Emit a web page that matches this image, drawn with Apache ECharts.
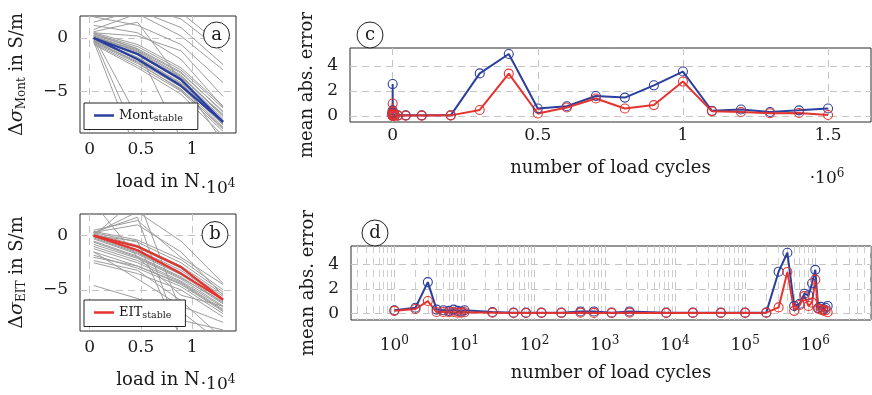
<!DOCTYPE html>
<html><head><meta charset="utf-8">
<script src="https://cdn.jsdelivr.net/npm/echarts@6/dist/echarts.min.js"></script>
<style>html,body{margin:0;padding:0;background:#fff}#c{width:872px;height:395px}</style>
</head><body><div id="c"></div>
<script>
// ---------- data ----------
const loadX = [400, 4670, 8900, 13000];
const loadTickVals = [0, 5000, 10000];
const loadTickLabels = ['0', '0.5', '1'];
const sigmaTickVals = [-5, 0];
const sigmaTickLabels = ['\u22125', '0'];

const montStableA = [0, -1.5, -3.9, -7.9];
const montStableB = [0, -2.0, -4.5, -7.9];
const eitStableA = [0, -1.0, -2.9, -5.9];
const eitStableB = [0, -1.35, -3.5, -5.9];

const montGray = [
  [0.3, -1.0, -3.2, -7.0], [0.2, -1.2, -3.5, -7.3], [0.1, -1.4, -3.8, -7.6],
  [0.0, -1.6, -4.0, -7.8], [-0.1, -1.8, -4.2, -8.0], [-0.2, -2.0, -4.4, -8.2],
  [-0.3, -2.2, -4.6, -8.4], [-0.4, -2.4, -4.8, -8.6], [0.4, -0.8, -3.0, -6.6],
  [0.5, -0.6, -2.8, -6.4], [0.2, -1.3, -3.6, -7.4], [-0.2, -1.9, -4.3, -8.1],
  [-0.5, -2.6, -5.0, -8.8], [0.0, -1.5, -3.7, -7.2], [0.1, -1.1, -3.3, -6.9],
  [-0.3, -2.3, -4.9, -8.5], [-0.6, -2.8, -5.3, -9.2],
  [1.5, 2.6, 1.0, -2.5], [2.4, 3.0, 1.8, -1.3], [0.8, 2.3, 0.2, -3.0],
  [2.0, 1.2, -0.6, -4.2], [2.8, 3.2, 2.4, -0.8], [0.5, 0.2, -1.2, -5.5],
  [1.2, 0.5, -2.0, -6.5], [0.0, -9.5, -12, -14], [0.2, -7.5, -11, -13],
  [-0.3, -11, -13, -15], [0.4, -1.0, -9.5, -11], [0.6, 1.5, -4.0, -9.8]
];
const eitGray = [
  [0.3, -0.6, -2.5, -5.2], [0.2, -0.9, -2.8, -5.4], [0.1, -1.1, -3.0, -5.6],
  [0.0, -1.3, -3.2, -5.8], [-0.1, -1.5, -3.4, -6.0], [-0.3, -1.7, -3.6, -6.2],
  [-0.5, -1.9, -3.8, -6.3], [-0.8, -2.1, -4.0, -6.5], [-1.0, -2.3, -4.2, -6.6],
  [-1.2, -2.5, -4.3, -6.8], [-1.5, -2.8, -4.5, -7.0], [-1.8, -3.0, -4.7, -7.2],
  [0.4, -0.4, -2.2, -5.0], [-0.2, -1.6, -3.5, -5.9], [-0.6, -2.0, -3.9, -6.1],
  [-2.5, -3.5, -5.0, -7.5], [-2.0, -2.8, -4.4, -6.9],
  [0.5, 1.4, -2.0, -4.5], [0.3, 1.0, -1.5, -5.5], [0.3, 1.7, -9.5, -11],
  [0.0, 3.5, -7.0, -10], [-4.6, -5.8, -7.8, -8.7], [-1.5, -4.0, -6.5, -8.0],
  [0.0, -0.5, -9.5, -10.5], [0.2, 2.2, -0.5, -4.4], [3.0, -2.0, -5.5, -6.5],
  [-2.3, -3.2, -6.0, -9.5]
];

const cycles = [1, 2, 3, 4, 5, 6, 7, 8, 9, 10, 25, 50, 75, 125, 240, 450, 700, 1250, 2250,
  7500, 18000, 45000, 100000, 200000, 300000, 400000, 500000, 600000, 700000, 800000,
  900000, 1000000, 1100000, 1200000, 1300000, 1400000, 1500000];
const montError = [0.25, 0.45, 2.55, 0.3, 0.25, 0.2, 0.3, 0.2, 0.15, 0.25, 0.1, 0.05, 0.05, 0.05,
  0.05, 0.15, 0.15, 0.05, 0.15, 0.05, 0.05, 0.05, 0.05, 0.05, 3.4, 4.95, 0.6, 0.78, 1.6, 1.47,
  2.45, 3.55, 0.42, 0.52, 0.32, 0.45, 0.6];
const eitError = [0.2, 0.35, 1.0, 0.1, 0.1, 0.08, 0.1, 0.05, 0.05, 0.08, 0.05, 0.02, 0.02, 0.03,
  0.03, 0.05, 0.03, 0.03, 0.05, 0.03, 0.03, 0.03, 0.03, 0.05, 0.48, 3.38, 0.2, 0.68, 1.4, 0.6,
  0.87, 2.75, 0.37, 0.32, 0.22, 0.24, 0.08];
const cycleTickVals = [0, 500000, 1000000, 1500000];
const cycleTickLabels = ['0', '0.5', '1', '1.5'];
const errTickVals = [0, 2, 4];
const errTickLabels = ['0', '2', '4'];
const logTickExps = [0, 1, 2, 3, 4, 5, 6];

// ---------- style ----------
const FONT = 'DejaVu Serif';
const TXT = '#1a1a1a';
const BLUE = '#2b3f9e';
const RED = '#e3342f';
const GRAY = '#9c9c9c';
const GRID_LINE = {show: true, showMinLine: false, showMaxLine: false, lineStyle: {color: '#c4c4c4', width: 1, type: [7, 5]}};

function pick(vals, labels) {
  return v => { const i = vals.findIndex(t => Math.abs(t - v) < 1e-6 * Math.max(1, Math.abs(t))); return i >= 0 ? labels[i] : ''; };
}
function axisBase(gridIndex, min, max, split, fmt, margin) {
  return {
    type: 'value', gridIndex, min, max, splitNumber: split,
    axisLine: {show: false}, axisTick: {show: false},
    axisLabel: {formatter: fmt, margin, fontFamily: FONT, fontSize: 17, color: TXT},
    splitLine: GRID_LINE
  };
}
const nameStyle = {fontFamily: FONT, fontSize: 18, color: TXT};
const richName = {
  n: {fontFamily: FONT, fontSize: 18, color: TXT},
  d: {fontFamily: FONT, fontSize: 19, color: TXT},
  g: {fontFamily: FONT, fontSize: 19, color: TXT, fontStyle: 'italic'},
  s: {fontFamily: FONT, fontSize: 12, color: TXT, padding: [9, 0, 0, 0]}
};

const xAxes = [
  Object.assign(axisBase(0, -930, 14260, 3, pick(loadTickVals, loadTickLabels), 8),
    {name: 'load in N', nameLocation: 'middle', nameGap: 40, nameTextStyle: nameStyle}),
  Object.assign(axisBase(1, -930, 14260, 3, pick(loadTickVals, loadTickLabels), 8),
    {name: 'load in N', nameLocation: 'middle', nameGap: 40, nameTextStyle: nameStyle}),
  Object.assign(axisBase(2, -147000, 1648000, 4, pick(cycleTickVals, cycleTickLabels), 5),
    {name: 'number of load cycles', nameLocation: 'middle', nameGap: 37, nameTextStyle: nameStyle}),
  {
    type: 'log', logBase: 10, gridIndex: 3, min: Math.pow(10, -0.618), max: Math.pow(10, 6.794),
    axisLine: {show: false}, axisTick: {show: false},
    axisLabel: {
      margin: 15, fontFamily: FONT, fontSize: 17, color: TXT,
      formatter: v => {
        const e = Math.log10(v); const r = Math.round(e);
        return (Math.abs(e - r) < 1e-6 && logTickExps.indexOf(r) >= 0) ? '{b|10}{s|' + r + '}' : '';
      },
      rich: {b: {fontFamily: FONT, fontSize: 17, color: TXT}, s: {fontFamily: FONT, fontSize: 12, color: TXT, padding: [0, 0, 10, 0]}}
    },
    splitLine: GRID_LINE,
    minorTick: {show: false, splitNumber: 9},
    minorSplitLine: {show: true, lineStyle: {color: '#cdcdcd', width: 1, type: [7, 5]}},
    name: 'number of load cycles', nameLocation: 'middle', nameGap: 44, nameTextStyle: nameStyle
  }
];
const yAxes = [
  Object.assign(axisBase(0, -8.95, 2.08, 2, pick(sigmaTickVals, sigmaTickLabels), 12),
    {name: '{d|\u0394}{g|\u03c3}{s|Mont}{n| in S/m}', nameLocation: 'middle', nameGap: 52, nameTextStyle: {rich: richName}}),
  Object.assign(axisBase(1, -8.8, 2.0, 2, pick(sigmaTickVals, sigmaTickLabels), 12),
    {name: '{d|\u0394}{g|\u03c3}{s|EIT}{n| in S/m}', nameLocation: 'middle', nameGap: 52, nameTextStyle: {rich: richName}}),
  Object.assign(axisBase(2, -0.48, 5.43, 3, pick(errTickVals, errTickLabels), 12),
    {name: 'mean abs. error', nameLocation: 'middle', nameGap: 30, nameTextStyle: nameStyle}),
  Object.assign(axisBase(3, -0.55, 5.5, 3, pick(errTickVals, errTickLabels), 12),
    {name: 'mean abs. error', nameLocation: 'middle', nameGap: 30, nameTextStyle: nameStyle})
];

const series = [];
function pairs(xs, ys) { return xs.map((x, i) => [x, ys[i]]); }
montGray.forEach((g, i) => series.push({type: 'line', name: 'mg' + i, xAxisIndex: 0, yAxisIndex: 0, data: pairs(loadX, g),
  showSymbol: false, lineStyle: {color: GRAY, width: 1}, itemStyle: {color: GRAY}, silent: true}));
[montStableA, montStableB].forEach(s => series.push({type: 'line', name: 'Mont_stable', xAxisIndex: 0, yAxisIndex: 0,
  data: pairs(loadX, s), showSymbol: false, lineStyle: {color: BLUE, width: 2.2}, itemStyle: {color: BLUE}, z: 5}));
eitGray.forEach((g, i) => series.push({type: 'line', name: 'eg' + i, xAxisIndex: 1, yAxisIndex: 1, data: pairs(loadX, g),
  showSymbol: false, lineStyle: {color: GRAY, width: 1}, itemStyle: {color: GRAY}, silent: true}));
[eitStableA, eitStableB].forEach(s => series.push({type: 'line', name: 'EIT_stable', xAxisIndex: 1, yAxisIndex: 1,
  data: pairs(loadX, s), showSymbol: false, lineStyle: {color: RED, width: 2.2}, itemStyle: {color: RED}, z: 5}));
function errSeries(ax, vals, color, name) {
  return {type: 'line', name, xAxisIndex: ax, yAxisIndex: ax, data: pairs(cycles, vals),
    symbol: 'circle', symbolSize: 9, showAllSymbol: true,
    lineStyle: {color, width: 2}, itemStyle: {color: 'rgba(0,0,0,0)', borderColor: color, borderWidth: 1.1}, z: 5};
}
series.push(errSeries(2, montError, BLUE, 'mont_err'), errSeries(2, eitError, RED, 'eit_err'));
series.push(errSeries(3, montError, BLUE, 'mont_err_log'), errSeries(3, eitError, RED, 'eit_err_log'));

const legendRich = {
  m: {fontFamily: FONT, fontSize: 13, color: TXT},
  s: {fontFamily: FONT, fontSize: 9.5, color: TXT, padding: [6, 0, 0, 0]}
};
function legend(name, left, top, padRight) {
  return {
    data: [name], left, top, orient: 'vertical', icon: 'rect', itemWidth: 20, itemHeight: 2.5, itemGap: 0,
    padding: [6, padRight, 6, 10], borderColor: '#222', borderWidth: 1, backgroundColor: '#fff',
    selectedMode: false,
    formatter: n => { const p = n.split('_'); return '{m|' + p[0] + '}{s|' + p[1] + '}'; },
    textStyle: {rich: legendRich, padding: [0, 0, 0, 0]}
  };
}

function panelLabel(cx, cy, letter) {
  return [
    {type: 'circle', shape: {cx, cy, r: 13}, style: {fill: '#fff', stroke: '#222', lineWidth: 1}, z: 100},
    {type: 'text', x: cx, y: cy, z: 101, style: {text: letter, fill: TXT, font: '18px "DejaVu Serif"', textAlign: 'center', textVerticalAlign: 'middle'}}
  ];
}
function expLabel(x, y, e) {
  return {type: 'text', x, y, z: 101, style: {
    text: '{a|\u00b710}{s|' + e + '}', textAlign: 'center', textVerticalAlign: 'middle',
    rich: {a: {fontFamily: FONT, fontSize: 17, fill: TXT, color: TXT}, s: {fontFamily: FONT, fontSize: 12, fill: TXT, color: TXT, padding: [0, 0, 10, 0]}}
  }};
}

const option = {
  animation: false,
  backgroundColor: '#fff',
  textStyle: {fontFamily: FONT},
  grid: [
    {left: 80, top: 16, width: 156, height: 117},
    {left: 80, top: 214, width: 156, height: 117},
    {left: 350, top: 48, width: 521, height: 74},
    {left: 351, top: 246, width: 520, height: 74}
  ].map(g => Object.assign(g, {show: true, borderColor: '#2a2a2a', borderWidth: 1, backgroundColor: 'rgba(0,0,0,0)', containLabel: false, outerBoundsMode: 'none'})),
  xAxis: xAxes,
  yAxis: yAxes,
  legend: [legend('Mont_stable', 84, 103, 15), legend('EIT_stable', 84, 300, 14)],
  series,
  graphic: [].concat(
    panelLabel(216.5, 35, 'a'), panelLabel(215, 234.5, 'b'),
    panelLabel(370, 35, 'c'), panelLabel(375, 233, 'd'),
    [expLabel(218, 189, 4), expLabel(218, 385, 4), expLabel(827, 179, 6)]
  )
};
const chart = echarts.init(document.getElementById('c'), null, {renderer: 'canvas'});
chart.setOption(option);
</script>
</body></html>
